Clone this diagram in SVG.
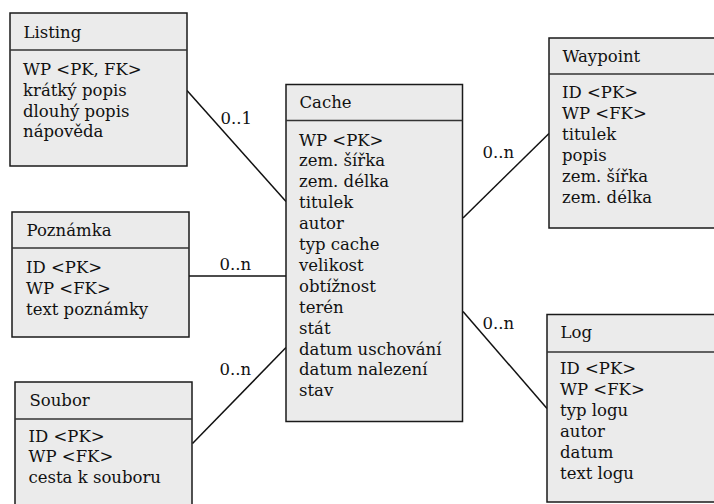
<svg xmlns="http://www.w3.org/2000/svg" width="714" height="504" viewBox="0 0 714 504">
  <style>
    .box { fill: #ebebeb; stroke: #1a1a1a; stroke-width: 1.5; }
    .div { stroke: #333333; stroke-width: 1.5; fill: none; }
    .conn { stroke: #111111; stroke-width: 1.5; fill: none; }
    text { font-family: "DejaVu Serif", "Liberation Serif", serif; font-size: 16.5px; fill: #111111; }
  </style>
  <rect width="714" height="504" fill="#ffffff"/>

  <!-- relationship lines -->
  <g id="connectors">
    <line class="conn" x1="187" y1="90.5" x2="286" y2="201.5"/>
    <text x="220.5" y="123.5">0..1</text>
    <line class="conn" x1="189" y1="276" x2="286" y2="276"/>
    <text x="219.5" y="269.5">0..n</text>
    <line class="conn" x1="192.5" y1="443.5" x2="286" y2="347.5"/>
    <text x="219.5" y="375">0..n</text>
    <line class="conn" x1="463" y1="218" x2="549" y2="133.5"/>
    <text x="482.5" y="157.5">0..n</text>
    <line class="conn" x1="463" y1="311.5" x2="547" y2="408.5"/>
    <text x="482.5" y="328.5">0..n</text>
  </g>

  <!-- entity: Listing -->
  <g id="listing">
    <rect class="box" x="10" y="13" width="177" height="153"/>
    <line class="div" x1="10" y1="50" x2="187" y2="50"/>
    <text x="23.5" y="37.5">Listing</text>
    <text x="23" y="75">WP &lt;PK, FK&gt;</text>
    <text x="23" y="95.8">krátký popis</text>
    <text x="23" y="116.6">dlouhý popis</text>
    <text x="23" y="137.4">nápověda</text>
  </g>

  <!-- entity: Poznámka -->
  <g id="poznamka">
    <rect class="box" x="12" y="212" width="177" height="125"/>
    <line class="div" x1="12" y1="248" x2="189" y2="248"/>
    <text x="26.5" y="235.5">Poznámka</text>
    <text x="26" y="273">ID &lt;PK&gt;</text>
    <text x="26" y="293.8">WP &lt;FK&gt;</text>
    <text x="26" y="314.6">text poznámky</text>
  </g>

  <!-- entity: Soubor -->
  <g id="soubor">
    <rect class="box" x="15" y="382" width="177" height="130"/>
    <line class="div" x1="15" y1="419" x2="192" y2="419"/>
    <text x="29.5" y="405.5">Soubor</text>
    <text x="28.5" y="441.5">ID &lt;PK&gt;</text>
    <text x="28.5" y="462.3">WP &lt;FK&gt;</text>
    <text x="28.5" y="483.1">cesta k souboru</text>
  </g>

  <!-- entity: Cache -->
  <g id="cache">
    <rect class="box" x="286" y="84.5" width="176.5" height="337"/>
    <line class="div" x1="286" y1="120.5" x2="462.5" y2="120.5"/>
    <text x="299.5" y="107.5">Cache</text>
    <text x="299" y="145.5">WP &lt;PK&gt;</text>
    <text x="299" y="166.4">zem. šířka</text>
    <text x="299" y="187.3">zem. délka</text>
    <text x="299" y="208.2">titulek</text>
    <text x="299" y="229.1">autor</text>
    <text x="299" y="250">typ cache</text>
    <text x="299" y="270.9">velikost</text>
    <text x="299" y="291.8">obtížnost</text>
    <text x="299" y="312.7">terén</text>
    <text x="299" y="333.6">stát</text>
    <text x="299" y="354.5">datum uschování</text>
    <text x="299" y="375.4">datum nalezení</text>
    <text x="299" y="396.3">stav</text>
  </g>

  <!-- entity: Waypoint -->
  <g id="waypoint">
    <rect class="box" x="549" y="38" width="177" height="190"/>
    <line class="div" x1="549" y1="74" x2="726" y2="74"/>
    <text x="562.5" y="62">Waypoint</text>
    <text x="562" y="98">ID &lt;PK&gt;</text>
    <text x="562" y="118.9">WP &lt;FK&gt;</text>
    <text x="562" y="139.8">titulek</text>
    <text x="562" y="160.7">popis</text>
    <text x="562" y="181.6">zem. šířka</text>
    <text x="562" y="202.5">zem. délka</text>
  </g>

  <!-- entity: Log -->
  <g id="log">
    <rect class="box" x="547" y="314.5" width="177" height="187.5"/>
    <line class="div" x1="547" y1="352" x2="724" y2="352"/>
    <text x="560.5" y="338">Log</text>
    <text x="560" y="374">ID &lt;PK&gt;</text>
    <text x="560" y="394.9">WP &lt;FK&gt;</text>
    <text x="560" y="415.8">typ logu</text>
    <text x="560" y="436.7">autor</text>
    <text x="560" y="457.6">datum</text>
    <text x="560" y="478.5">text logu</text>
  </g>
</svg>
